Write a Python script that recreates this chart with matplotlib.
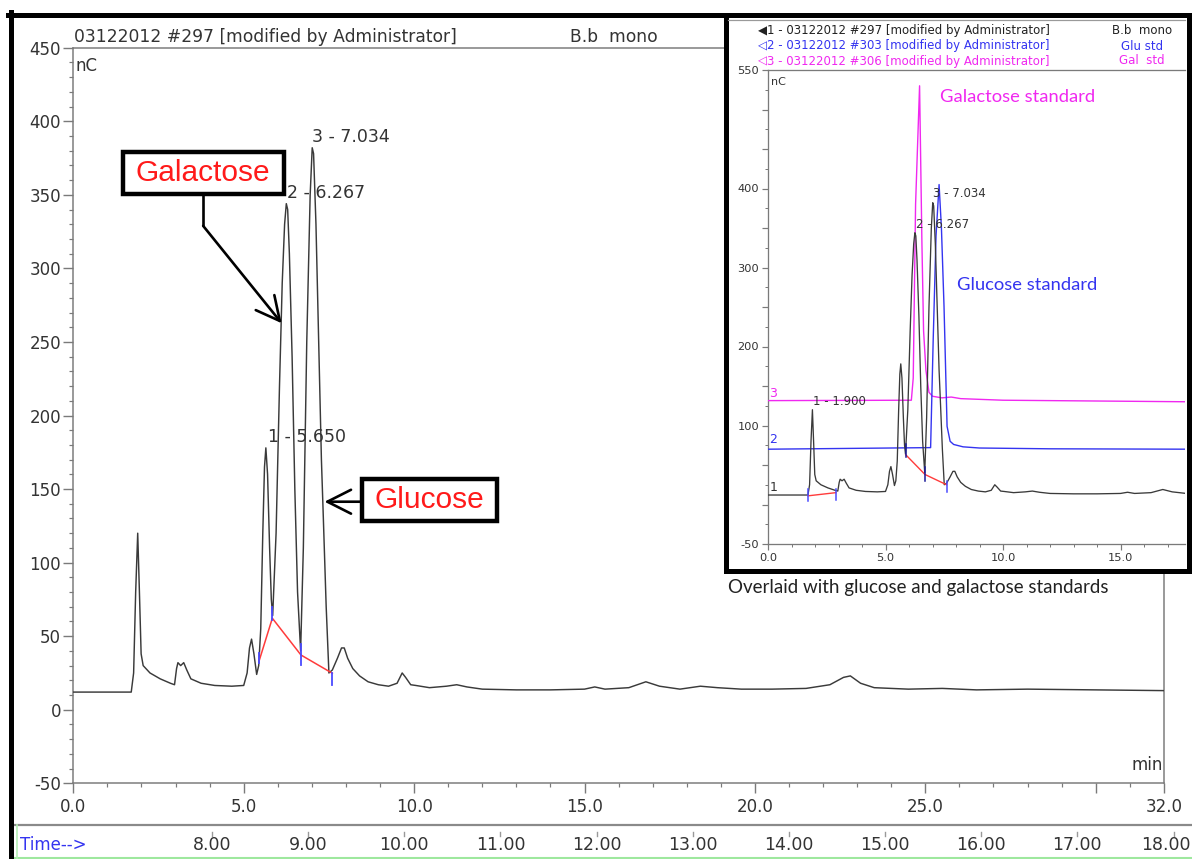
import matplotlib
matplotlib.use("Agg")
import matplotlib.pyplot as plt
from matplotlib.patches import Rectangle, FancyArrowPatch
from matplotlib.lines import Line2D
from matplotlib.ticker import MultipleLocator, FixedLocator

W, H = 1192, 859
PX = 72.0 / 100.0  # points per pixel at 100 dpi

# ---- sample run 03122012 #297 (B.b mono), time in min, signal in nC ----
sample_time = [0.0, 1.70, 1.77, 1.83, 1.89, 1.94, 1.99, 2.05, 2.25, 2.55, 2.85, 2.97,
               3.03, 3.07, 3.15, 3.24, 3.33, 3.45, 3.75, 4.15, 4.65, 5.00, 5.10, 5.17,
               5.23, 5.30, 5.38, 5.44, 5.50, 5.56, 5.61, 5.65, 5.70, 5.76, 5.81, 5.85,
               5.95, 6.05, 6.13, 6.20, 6.25, 6.29, 6.34, 6.42, 6.50, 6.58, 6.67, 6.75,
               6.85, 6.95, 7.01, 7.05, 7.12, 7.20, 7.28, 7.33, 7.42, 7.50, 7.60, 7.75,
               7.87, 7.95, 8.05, 8.20, 8.40, 8.65, 8.95, 9.25, 9.50, 9.65, 9.75, 9.90,
               10.05, 10.45, 10.95, 11.25, 11.55, 12.0, 13.0, 14.0, 15.0, 15.3, 15.6,
               16.3, 16.8, 17.2, 17.8, 18.4, 18.9, 19.6, 20.5, 21.5, 22.2, 22.6, 22.8,
               23.1, 23.5, 24.5, 25.5, 26.5, 28.0, 30.0, 32.0]
sample_signal = [12, 12, 25, 80, 120, 80, 38, 30, 25, 21, 18, 17,
                 28, 32, 30, 32, 27, 21, 18, 16.5, 16, 16.5, 25, 42,
                 48, 38, 24, 30, 55, 120, 165, 178, 160, 110, 75, 64,
                 120, 220, 290, 330, 344, 340, 310, 240, 150, 80, 40, 110,
                 250, 350, 382, 378, 330, 250, 170, 135, 70, 25, 27, 35,
                 42, 42, 35, 28, 23, 19, 17, 16, 18, 25, 22, 17,
                 16.5, 15, 16, 17, 15.5, 14, 13.5, 13.5, 14, 15.5, 14,
                 15, 19, 16, 14, 16, 15, 14, 14, 14.5, 17, 22, 23,
                 18, 15, 14, 14.5, 13.5, 14, 13.5, 13]

# ---- glucose standard 03122012 #303 ----
glu_time = [0.0, 6.92, 7.03, 7.15, 7.28, 7.38, 7.49, 7.62, 7.75, 7.90, 8.30, 9.0, 12.0, 18.0]
glu_signal = [70, 72, 209, 340, 405, 350, 251, 99, 80, 76, 73, 71.5, 70.5, 70]

# ---- galactose standard 03122012 #306 ----
gal_time = [0.0, 6.10, 6.18, 6.28, 6.45, 6.55, 6.62, 6.72, 6.85, 7.0, 7.4, 7.8, 8.2, 10.0, 18.0]
gal_signal = [131.5, 132, 160, 380, 530, 330, 220, 170, 142, 137, 135, 136, 134, 132, 130]

# integration baselines (time, nC)
main_base_time = [5.46, 5.84, 6.68, 7.60]
main_base_signal = [33.8, 62.2, 37.2, 24.8]
inset_base1_time = [1.71, 2.89]
inset_base1_signal = [11, 15]
inset_base2_time = [5.86, 6.68, 7.60]
inset_base2_signal = [63, 38, 25]

# peak labels
main_peak_text = ["1 - 5.650", "2 - 6.267", "3 - 7.034"]
inset_peak_text = ["1 - 1.900", "2 - 6.267", "3 - 7.034"]

# axis labels
main_xticks = [0, 5, 10, 15, 20, 25, 30, 32]
main_xlabels = ["0.0", "5.0", "10.0", "15.0", "20.0", "25.0", "", "32.0"]
main_yticks = [-50, 0, 50, 100, 150, 200, 250, 300, 350, 400, 450]
inset_xticks = [0, 5, 10, 15]
inset_xlabels = ["0.0", "5.0", "10.0", "15.0"]
inset_yticks = [-50, 0, 50, 100, 150, 200, 250, 300, 350, 400, 450, 500, 550]
inset_ylabels = ["-50", "", "", "100", "", "200", "", "300", "", "400", "", "", "550"]
time_values = [8, 9, 10, 11, 12, 13, 14, 15, 16, 17, 18]

legend_rows = ["1 - 03122012 #297 [modified by Administrator]",
               "2 - 03122012 #303 [modified by Administrator]",
               "3 - 03122012 #306 [modified by Administrator]"]
legend_names = ["B.b  mono", "Glu std", "Gal  std"]

TXT = "#333333"
GRAY = "#7a7a7a"
TRACE = "#3a3a3a"
BLUE = "#3434f0"
MAGENTA = "#f028f0"
RED = "#ff3b3b"


def fx(px):
    return px / W


def fy(py):
    return 1 - py / H


plt.rcParams["font.family"] = ["DejaVu Sans"]
fig = plt.figure(figsize=(W / 100, H / 100), dpi=100)
fig.patch.set_facecolor("white")

# ================= main chromatogram =================
L, R, T, B = 73.3, 1163.9, 47.7, 783.3
ax = fig.add_axes([fx(L), fy(B), (R - L) / W, (B - T) / H])
ax.set_xlim(0, 32)
ax.set_ylim(-50, 450)
for s in ax.spines.values():
    s.set_color(GRAY)
    s.set_linewidth(1.5 * PX)
ax.xaxis.set_major_locator(FixedLocator(main_xticks))
ax.set_xticklabels(main_xlabels)
ax.xaxis.set_minor_locator(MultipleLocator(1))
ax.yaxis.set_major_locator(FixedLocator(main_yticks))
ax.set_yticklabels([str(v) for v in main_yticks])
ax.yaxis.set_minor_locator(MultipleLocator(10))
ax.tick_params(which="major", direction="out", length=10 * PX, width=1.4 * PX,
               color=GRAY, labelsize=12, labelcolor=TXT, pad=3.5)
ax.tick_params(which="minor", direction="out", length=4 * PX, width=1.2 * PX, color=GRAY)
ax.tick_params(axis="y", which="major", pad=1.5)

ax.plot(sample_time, sample_signal, color=TRACE, lw=1.05, zorder=3)
ax.plot(main_base_time, main_base_signal, color=RED, lw=1.1, zorder=4)
tick_spans = [(31.8, 38.6), (61, 70), (30.5, 45), (16.8, 25)]
for t, (y0, y1) in zip(main_base_time, tick_spans):
    ax.plot([t, t], [y0, y1], color="#4a4aff", lw=1.3, zorder=5)

ax.text(5.71, 185.4, main_peak_text[0], fontsize=12.5, color=TXT, va="center")
ax.text(6.27, 351.1, main_peak_text[1], fontsize=12.5, color=TXT, va="center")
ax.text(7.00, 389.0, main_peak_text[2], fontsize=12.5, color=TXT, va="center")

ax.text(0.002, 0.988, "nC", transform=ax.transAxes, fontsize=12, color=TXT,
        va="top", ha="left")
ax.text(0.999, 0.012, "min", transform=ax.transAxes, fontsize=12, color=TXT,
        va="bottom", ha="right")
fig.text(fx(74), fy(37), "03122012 #297 [modified by Administrator]", fontsize=12.3,
         color=TXT, va="center", ha="left")
fig.text(fx(570), fy(37), "B.b  mono", fontsize=12.3, color=TXT, va="center", ha="left")

# Galactose callout
ax.add_patch(Rectangle((1.45, 350.7), 6.18 - 1.45, 378.9 - 350.7, facecolor="white",
                       edgecolor="black", lw=3.2, zorder=6))
ax.text(3.81, 364.7, "Galactose", family="Liberation Sans", fontsize=21.5, color="#ff1a1a",
        ha="center", va="center", zorder=7)
ax.plot([3.81, 3.81], [350.7, 328.9], color="black", lw=1.9, zorder=6,
        solid_capstyle="butt")
ax.add_patch(FancyArrowPatch((3.81, 328.9), (6.115, 262.7),
                             arrowstyle="->,head_length=0.85,head_width=0.43",
                             mutation_scale=20, color="black", lw=1.9,
                             shrinkA=0, shrinkB=0, zorder=6))

# Glucose callout
ax.add_patch(Rectangle((8.46, 128.5), 12.44 - 8.46, 156.8 - 128.5, facecolor="white",
                       edgecolor="black", lw=3.2, zorder=6))
ax.text(10.45, 142.6, "Glucose", family="Liberation Sans", fontsize=21.5, color="#ff1a1a",
        ha="center", va="center", zorder=7)
ax.add_patch(FancyArrowPatch((8.46, 141.4), (7.37, 141.4),
                             arrowstyle="->,head_length=0.85,head_width=0.43",
                             mutation_scale=20, color="black", lw=1.9,
                             shrinkA=0, shrinkB=0, zorder=6))

# ================= time strip =================
TL, TR, TT, TB = 13, 1192, 825, 859
axt = fig.add_axes([fx(TL), fy(TB), (TR - TL) / W, (TB - TT) / H])
axt.set_xlim(8 - (212 - TL) / 96.15, 8 + (TR - 212) / 96.15)
axt.set_ylim(0, 1)
axt.axis("off")
axt.plot([0, 1], [1, 1], transform=axt.transAxes, color="#8a8a8a", lw=1.6, clip_on=False)
axt.plot([0, 1], [0.03, 0.03], transform=axt.transAxes, color="#9ee89e", lw=1.5,
         clip_on=False)
axt.plot([0.003, 0.003], [0, 1], transform=axt.transAxes, color="#b6efb6", lw=1.2,
         clip_on=False)
for v in time_values:
    last = v == time_values[-1]
    axt.text(v + (0.18 if last else 0), 0.42, f"{v:.2f}", fontsize=12.5, color=TXT,
             ha="right" if last else "center", va="center", clip_on=False)
    axt.plot([v, v], [0.68, 0.78], color="#999999", lw=1.0)
axt.text(0.006, 0.42, "Time-->", transform=axt.transAxes, fontsize=12, color=BLUE,
         ha="left", va="center")

# ================= outer frame =================
fig.add_artist(Line2D([fx(10.5), fx(10.5)], [fy(12), fy(859)], color="black", lw=5 * PX,
                      zorder=10))
fig.add_artist(Line2D([fx(8), fx(1190)], [fy(14.5), fy(14.5)], color="black", lw=5 * PX,
                      zorder=10))

# ================= overlay panel =================
fig.add_artist(Rectangle((fx(725.5), fy(570.5)), (1188.5 - 725.5) / W, (570.5 - 14.5) / H,
                         transform=fig.transFigure, facecolor="white", edgecolor="black",
                         lw=5 * PX, zorder=4))
fig.add_artist(Line2D([fx(728), fx(1185)], [fy(20), fy(20)], color="#9a9a9a", lw=1.2 * PX,
                      zorder=5))

IL, IR, IT, IB = 768, 1185, 70, 544
axi = fig.add_axes([fx(IL), fy(IB), (IR - IL) / W, (IB - IT) / H], zorder=6)
axi.set_xlim(0, (IR - IL) / 23.5)
axi.set_ylim(-50, 550)
axi.spines["right"].set_visible(False)
for s in ("left", "bottom", "top"):
    axi.spines[s].set_color(GRAY)
    axi.spines[s].set_linewidth(1.3 * PX)
axi.xaxis.set_major_locator(FixedLocator(inset_xticks))
axi.set_xticklabels(inset_xlabels)
axi.xaxis.set_minor_locator(MultipleLocator(1))
axi.yaxis.set_major_locator(FixedLocator(inset_yticks))
axi.set_yticklabels(inset_ylabels)
axi.yaxis.set_minor_locator(MultipleLocator(25))
axi.tick_params(which="major", direction="out", length=6 * PX, width=1.2 * PX, color=GRAY,
                labelsize=8.2, labelcolor=TXT, pad=2)
axi.tick_params(which="minor", direction="out", length=3 * PX, width=1.0 * PX, color=GRAY)

axi.plot(gal_time, gal_signal, color=MAGENTA, lw=1.0, zorder=3)
axi.plot(glu_time, glu_signal, color=BLUE, lw=1.0, zorder=3)
axi.plot(sample_time, sample_signal, color=TRACE, lw=0.95, zorder=4)
axi.plot(inset_base1_time, inset_base1_signal, color=RED, lw=1.0, zorder=5)
axi.plot(inset_base2_time, inset_base2_signal, color=RED, lw=1.0, zorder=5)
inset_tick_spans = [(4, 20), (6, 20), (60, 76), (30, 48), (16, 30)]
inset_tick_colors = ["#4a4aff", "#4a4aff", "#1a1a99", "#1a1a99", "#4a4aff"]
for t, (y0, y1), c in zip(inset_base1_time + inset_base2_time, inset_tick_spans,
                          inset_tick_colors):
    axi.plot([t, t], [y0, y1], color=c, lw=1.1, zorder=6)

axi.text(1.91, 130.6, inset_peak_text[0], fontsize=8.5, color=TXT, va="center")
axi.text(6.30, 354.8, inset_peak_text[1], fontsize=8.5, color=TXT, va="center")
axi.text(7.03, 394.0, inset_peak_text[2], fontsize=8.5, color=TXT, va="center")
axi.text(0.05, 22, "1", fontsize=9, color=TXT, va="center")
axi.text(0.05, 82, "2", fontsize=9, color=BLUE, va="center")
axi.text(0.05, 140, "3", fontsize=9, color=MAGENTA, va="center")
axi.text(0.006, 0.985, "nC", transform=axi.transAxes, fontsize=8, color=TXT,
         va="top", ha="left")

axi.text(7.3, 516, "Galactose standard", family="Lato", fontsize=13.2, color=MAGENTA,
         va="center", ha="left")
axi.text(8.05, 278, "Glucose standard", family="Lato", fontsize=13.2, color=BLUE,
         va="center", ha="left")

# run legend above the overlay
row_y = [30.7, 46, 61]
row_colors = ["#222222", BLUE, MAGENTA]
row_marks = ["\u25C0", "\u25C1", "\u25C1"]
for y, txt, name, c, m in zip(row_y, legend_rows, legend_names, row_colors, row_marks):
    fig.text(fx(767), fy(y), m, fontsize=8.5, color=c, ha="right", va="center", zorder=7)
    fig.text(fx(767), fy(y), txt, fontsize=8.5, color=c, ha="left", va="center", zorder=7)
    fig.text(fx(1142), fy(y), name, fontsize=8.5, color=c, ha="center", va="center",
             zorder=7)

fig.text(fx(728), fy(588), "Overlaid with glucose and galactose standards", family="Lato",
         fontsize=13.5, color="#222222", ha="left", va="center")

fig.savefig("out.png", dpi=100)
